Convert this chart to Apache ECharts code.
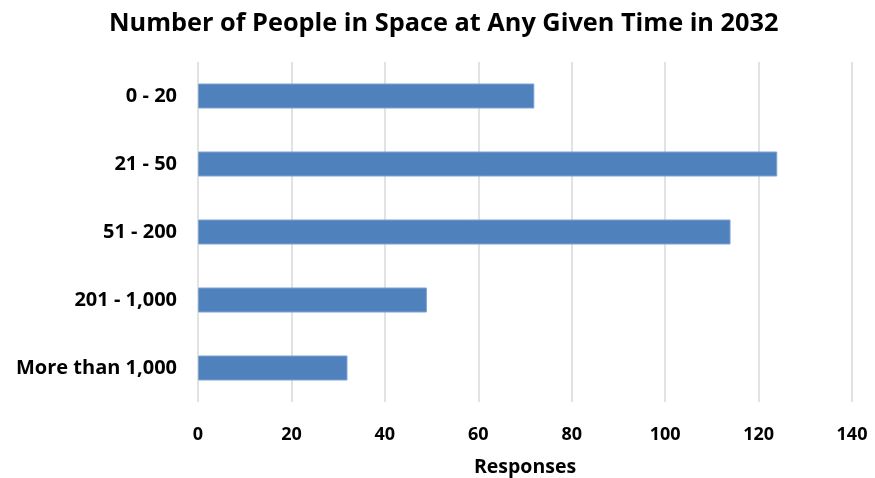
<!DOCTYPE html>
<html><head><meta charset="utf-8">
<script src="https://cdn.jsdelivr.net/npm/echarts@6/dist/echarts.min.js"></script>
<style>html,body{margin:0;padding:0;background:#fff}#c{width:875px;height:478px}</style>
</head><body><div id="c"></div>
<script>
const categories = ["0 - 20", "21 - 50", "51 - 200", "201 - 1,000", "More than 1,000"];
const responses = [72, 124, 114, 49, 32];
const xTicks = [0, 20, 40, 60, 80, 100, 120, 140];

const chart = echarts.init(document.getElementById('c'));
const font = "'Open Sans', 'Liberation Sans', sans-serif";
chart.setOption({
  animation: false,
  title: {
    text: "Number of People in Space at Any Given Time in 2032",
    left: 104, top: 6,
    textStyle: {fontFamily: font, fontSize: 25.3, fontWeight: 'bold', color: '#000'}
  },
  grid: {left: 198, right: 23, top: 62, bottom: 76, containLabel: false, outerBoundsMode: 'none'},
  xAxis: {
    type: 'value', min: xTicks[0], max: xTicks[xTicks.length - 1], interval: 20,
    name: 'Responses', nameLocation: 'middle', nameGap: 55,
    nameTextStyle: {fontFamily: font, fontSize: 19.5, fontWeight: 'bold', color: '#000'},
    axisLine: {show: false}, axisTick: {show: false},
    axisLabel: {fontFamily: font, fontSize: 18, fontWeight: 'bold', color: '#000', margin: 24},
    splitLine: {lineStyle: {color: '#d9d9d9', width: 1.5}}
  },
  yAxis: {
    type: 'category', data: categories, inverse: true,
    axisLine: {show: false}, axisTick: {show: false},
    axisLabel: {fontFamily: font, fontSize: 20, fontWeight: 'bold', color: '#000', margin: 21}
  },
  series: [{
    type: 'bar', data: responses, barWidth: 25,
    itemStyle: {color: '#4f81bd', borderColor: '#7ea3d3', borderWidth: 1}
  }]
});
</script></body></html>
